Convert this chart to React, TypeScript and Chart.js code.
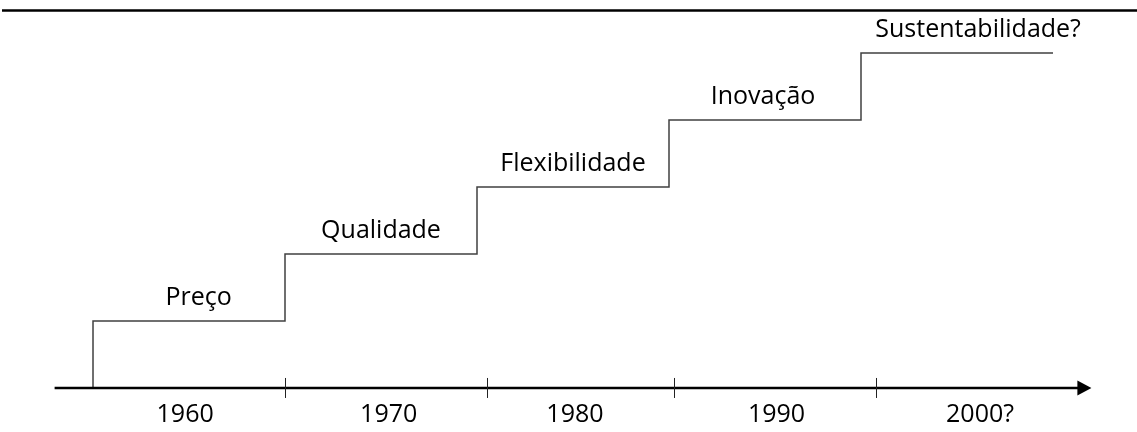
import React, { useEffect, useRef } from "react";
import { Chart, registerables } from "chart.js";

Chart.register(...registerables);

// Step starts (years) and the level reached at each step
const stepYears = [1955, 1965, 1975, 1985, 1995];
const stepLevels = [1, 2, 3, 4, 5];
const stepEndYear = 2005;

// Labels written above each step
const stepLabels = ["Preço", "Qualidade", "Flexibilidade", "Inovação", "Sustentabilidade?"];
const stepLabelYears = [1960.5, 1970, 1980, 1989.9, 2001.1];

// Timeline axis
const axisStartYear = 1953;
const axisEndYear = 2007;
const tickYears = [1965, 1975.5, 1985.25, 1995.8];
const tickLabels = ["1960", "1970", "1980", "1990", "2000?"];
const tickLabelYears = [1959.8, 1970.4, 1980.1, 1990.6, 2001.2];

const FONT = '"Open Sans", "Noto Sans", sans-serif';

const decorPlugin = {
  id: "decor",
  afterDatasetsDraw(chart: any) {
    const { ctx, scales, chartArea } = chart;
    const xs = scales.x;
    const ys = scales.y;
    ctx.save();

    // top rule
    ctx.strokeStyle = "#000";
    ctx.lineWidth = 2.5;
    ctx.beginPath();
    ctx.moveTo(chartArea.left + 2, chartArea.top + 10.5);
    ctx.lineTo(chartArea.right, chartArea.top + 10.5);
    ctx.stroke();

    // axis
    const y0 = ys.getPixelForValue(0);
    const xStart = xs.getPixelForValue(axisStartYear);
    const xTip = xs.getPixelForValue(axisEndYear);
    ctx.lineWidth = 2.5;
    ctx.beginPath();
    ctx.moveTo(xStart, y0);
    ctx.lineTo(xTip - 12, y0);
    ctx.stroke();
    ctx.fillStyle = "#000";
    ctx.beginPath();
    ctx.moveTo(xTip, y0);
    ctx.lineTo(xTip - 14, y0 - 7.5);
    ctx.lineTo(xTip - 14, y0 + 7.5);
    ctx.closePath();
    ctx.fill();

    // ticks
    ctx.lineWidth = 1;
    ctx.strokeStyle = "#222";
    tickYears.forEach((t) => {
      const px = Math.round(xs.getPixelForValue(t)) + 0.5;
      ctx.beginPath();
      ctx.moveTo(px, y0 - 10);
      ctx.lineTo(px, y0 + 10);
      ctx.stroke();
    });

    // tick labels
    ctx.font = `25px ${FONT}`;
    ctx.textAlign = "center";
    ctx.textBaseline = "alphabetic";
    ctx.fillStyle = "#000";
    tickLabels.forEach((lab, i) => {
      ctx.fillText(lab, xs.getPixelForValue(tickLabelYears[i]), y0 + 34);
    });

    // step labels
    stepLabels.forEach((lab, i) => {
      const py = ys.getPixelForValue(stepLevels[i]);
      ctx.fillText(lab, xs.getPixelForValue(stepLabelYears[i]), py - 16);
    });

    ctx.restore();
  },
};

export default function App() {
  const ref = useRef<HTMLCanvasElement>(null);

  useEffect(() => {
    if (!ref.current) return;
    const data: { x: number; y: number }[] = [{ x: stepYears[0], y: 0 }];
    stepYears.forEach((yr, i) => data.push({ x: yr, y: stepLevels[i] }));
    data.push({ x: stepEndYear, y: stepLevels[stepLevels.length - 1] });

    const chart = new Chart(ref.current, {
      type: "line",
      data: {
        datasets: [
          {
            data,
            stepped: "before",
            borderColor: "#404040",
            borderWidth: 1.5,
            pointRadius: 0,
            fill: false,
          },
        ],
      },
      options: {
        animation: false,
        responsive: true,
        maintainAspectRatio: false,
        layout: { padding: 0 },
        plugins: { legend: { display: false }, tooltip: { enabled: false } },
        events: [],
        scales: {
          x: { type: "linear", min: 1950.156, max: 2009.375, display: false },
          y: { type: "linear", min: -0.657, max: 5.791, display: false },
        },
      },
      plugins: [decorPlugin],
    });
    return () => chart.destroy();
  }, []);

  return (
    <div style={{ position: "fixed", left: 0, top: 0, width: 1137, height: 432, background: "#fff" }}>
      <canvas ref={ref} />
    </div>
  );
}
